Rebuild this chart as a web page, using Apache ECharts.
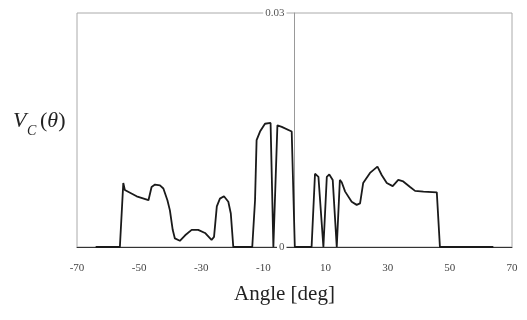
<!DOCTYPE html>
<html>
<head>
<meta charset="utf-8">
<script src="https://cdn.jsdelivr.net/npm/echarts@6/dist/echarts.min.js"></script>
<style>html,body{margin:0;padding:0;background:#fff;}#c{width:527px;height:320px;}</style>
</head>
<body>
<div id="c"></div>
<script>
const angles = [-64,-56.2,-55.1,-54.6,-50.8,-47.0,-46.0,-44.9,-43.3,-42.2,-40.9,-40.1,-39.2,-38.5,-36.9,-35.2,-33.1,-31.0,-28.8,-26.7,-25.9,-25.0,-24.0,-22.7,-21.3,-20.5,-19.7,
  -13.6,-12.7,-12.2,-11.1,-9.5,-7.7,-6.8,-5.5,-4.1,-0.9,-0.4,0.1,
  5.5,6.6,7.7,9.3,10.4,11.2,12.3,13.6,14.6,15.2,16.3,18.4,20.0,21.1,22.1,24.3,26.7,28.1,29.7,31.6,33.4,35.0,37.2,38.8,41.5,45.8,46.8,64];
const vc = [0,0,0.0082,0.0073,0.0065,0.0060,0.0077,0.0080,0.0079,0.0075,0.0060,0.0047,0.0022,0.0011,0.0008,0.0015,0.0022,0.0022,0.0018,0.0009,0.0013,0.0052,0.0062,0.0065,0.0058,0.0043,0,
  0,0.0060,0.0137,0.0148,0.0158,0.0159,0,0.0156,0.0154,0.0148,0.0146,0,
  0,0.0094,0.0090,0,0.0090,0.0093,0.0086,0,0.0086,0.0083,0.0071,0.0058,0.0054,0.0056,0.0082,0.0095,0.0103,0.0092,0.0082,0.0078,0.0086,0.0084,0.0077,0.0072,0.0071,0.0070,0,0];
const xRange = [-70, 70];
const xStep = 20;
const yRange = [0, 0.03];

const gridLeft = 77, gridRight = 15;
const plotW = 527 - gridLeft - gridRight;
const zeroOffset = plotW * (0 - xRange[0]) / (xRange[1] - xRange[0]);

const chart = echarts.init(document.getElementById('c'));
const serif = 'Liberation Serif';
chart.setOption({
  backgroundColor: '#fff',
  animation: false,
  grid: {left: gridLeft, right: gridRight, top: 13, bottom: 73, show: true, borderColor: '#aaa', borderWidth: 1},
  xAxis: {
    type: 'value', min: xRange[0], max: xRange[1], interval: xStep,
    axisLine: {lineStyle: {color: '#333', width: 1}},
    axisTick: {show: false},
    splitLine: {show: false},
    axisLabel: {margin: 16, fontFamily: serif, fontSize: 11, color: '#444'}
  },
  yAxis: {
    type: 'value', min: yRange[0], max: yRange[1], interval: yRange[1],
    offset: -zeroOffset,
    axisLine: {show: true, onZero: false, lineStyle: {color: '#999', width: 1}},
    axisTick: {show: false},
    splitLine: {show: false},
    axisLabel: {margin: 8, fontFamily: serif, fontSize: 11, color: '#555', backgroundColor: '#fff', padding: [0, 2]}
  },
  series: [{
    type: 'line',
    data: angles.map((a, i) => [a, vc[i]]),
    showSymbol: false,
    lineStyle: {color: '#1a1a1a', width: 1.8},
    z: 3
  }],
  graphic: [
    {type: 'text', left: 291 - 57, top: 284, style: {text: 'Angle [deg]', font: '21px "Liberation Serif"', fill: '#222'}},
    {type: 'text', x: 13, y: 110, style: {text: 'V', font: 'italic 22px "Liberation Serif"', fill: '#222'}},
    {type: 'text', x: 27, y: 124, style: {text: 'C', font: 'italic 14px "Liberation Serif"', fill: '#222'}},
    {type: 'text', x: 40, y: 110, style: {text: '{n|(}{i|θ}{n|)}', rich: {
      n: {font: '22px "Liberation Serif"', fill: '#222'},
      i: {font: 'italic 22px "Liberation Serif"', fill: '#222'}
    }}}
  ]
});
</script>
</body>
</html>
